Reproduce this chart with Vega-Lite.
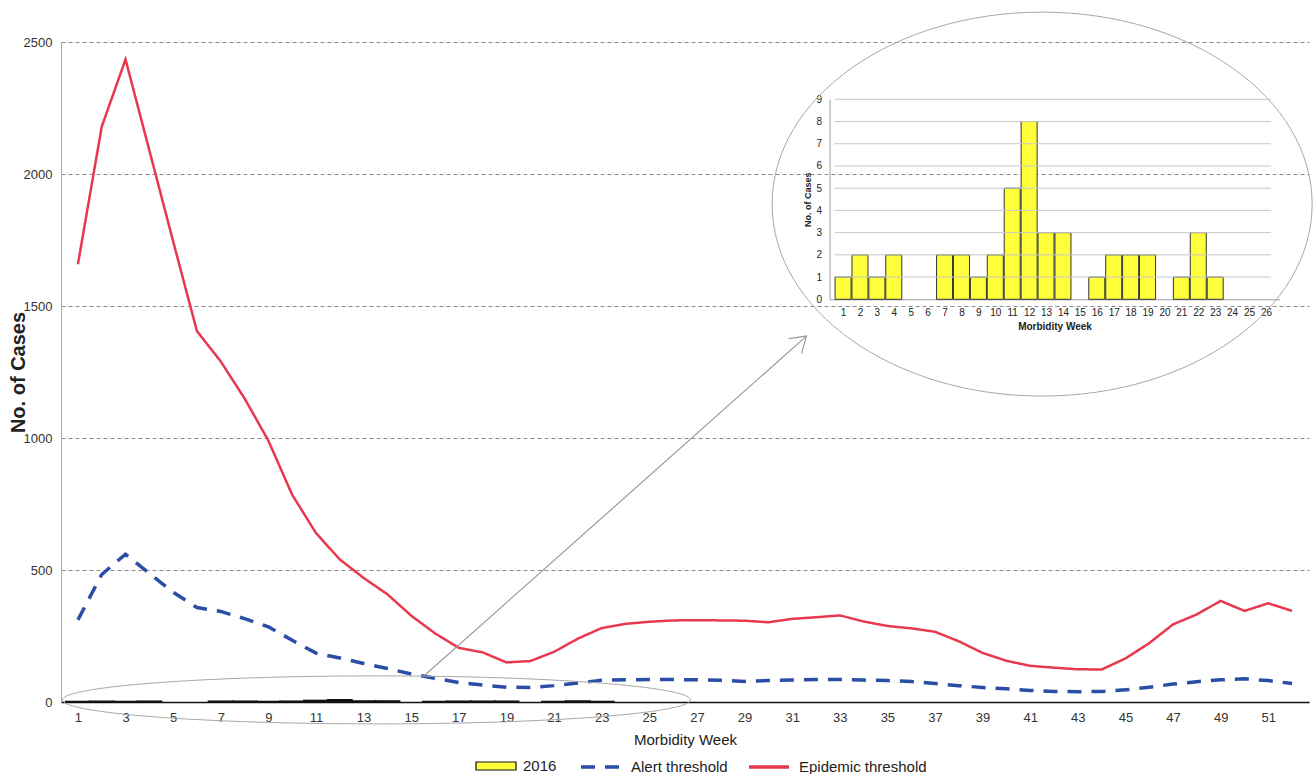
{
  "$schema": "https://vega.github.io/schema/vega-lite/v6.json",
  "width": 1248,
  "height": 660,
  "autosize": {"type": "none"},
  "padding": {"left": 61, "top": 42, "right": 7, "bottom": 72},
  "background": "white",
  "config": {"font": "Liberation Sans", "view": {"stroke": null}},
  "datasets": {
    "weekly": [
      {"week": 1, "alert": 311, "epidemic": 1658},
      {"week": 2, "alert": 483, "epidemic": 2179},
      {"week": 3, "alert": 560, "epidemic": 2434},
      {"week": 4, "alert": 487, "epidemic": 2090},
      {"week": 5, "alert": 416, "epidemic": 1745},
      {"week": 6, "alert": 358, "epidemic": 1405},
      {"week": 7, "alert": 343, "epidemic": 1290},
      {"week": 8, "alert": 316, "epidemic": 1150},
      {"week": 9, "alert": 285, "epidemic": 990},
      {"week": 10, "alert": 234, "epidemic": 785},
      {"week": 11, "alert": 185, "epidemic": 640},
      {"week": 12, "alert": 167, "epidemic": 540},
      {"week": 13, "alert": 146, "epidemic": 470},
      {"week": 14, "alert": 127, "epidemic": 408},
      {"week": 15, "alert": 106, "epidemic": 327},
      {"week": 16, "alert": 90, "epidemic": 260},
      {"week": 17, "alert": 74, "epidemic": 205},
      {"week": 18, "alert": 64, "epidemic": 188},
      {"week": 19, "alert": 56, "epidemic": 150},
      {"week": 20, "alert": 55, "epidemic": 155},
      {"week": 21, "alert": 62, "epidemic": 190},
      {"week": 22, "alert": 72, "epidemic": 240},
      {"week": 23, "alert": 82, "epidemic": 280},
      {"week": 24, "alert": 84, "epidemic": 296},
      {"week": 25, "alert": 85, "epidemic": 304},
      {"week": 26, "alert": 85, "epidemic": 309},
      {"week": 27, "alert": 84, "epidemic": 310},
      {"week": 28, "alert": 82, "epidemic": 309},
      {"week": 29, "alert": 78, "epidemic": 308},
      {"week": 30, "alert": 81, "epidemic": 302},
      {"week": 31, "alert": 83, "epidemic": 315},
      {"week": 32, "alert": 85, "epidemic": 321},
      {"week": 33, "alert": 85, "epidemic": 328},
      {"week": 34, "alert": 83, "epidemic": 305},
      {"week": 35, "alert": 81, "epidemic": 288},
      {"week": 36, "alert": 78, "epidemic": 279},
      {"week": 37, "alert": 70, "epidemic": 266},
      {"week": 38, "alert": 62, "epidemic": 230},
      {"week": 39, "alert": 55, "epidemic": 186},
      {"week": 40, "alert": 50, "epidemic": 156},
      {"week": 41, "alert": 44, "epidemic": 137},
      {"week": 42, "alert": 40, "epidemic": 130},
      {"week": 43, "alert": 39, "epidemic": 124},
      {"week": 44, "alert": 40, "epidemic": 123},
      {"week": 45, "alert": 46, "epidemic": 165},
      {"week": 46, "alert": 56, "epidemic": 223},
      {"week": 47, "alert": 68, "epidemic": 294},
      {"week": 48, "alert": 77, "epidemic": 332},
      {"week": 49, "alert": 84, "epidemic": 383},
      {"week": 50, "alert": 88, "epidemic": 345},
      {"week": 51, "alert": 81, "epidemic": 374},
      {"week": 52, "alert": 70, "epidemic": 345}
    ],
    "y2016": [
      {"week": 1, "cases": 1}, {"week": 2, "cases": 2}, {"week": 3, "cases": 1}, {"week": 4, "cases": 2},
      {"week": 7, "cases": 2}, {"week": 8, "cases": 2}, {"week": 9, "cases": 1}, {"week": 10, "cases": 2},
      {"week": 11, "cases": 5}, {"week": 12, "cases": 8}, {"week": 13, "cases": 3}, {"week": 14, "cases": 3},
      {"week": 16, "cases": 1}, {"week": 17, "cases": 2}, {"week": 18, "cases": 2}, {"week": 19, "cases": 2},
      {"week": 21, "cases": 1}, {"week": 22, "cases": 3}, {"week": 23, "cases": 1}
    ],
    "insetGrid": [
      {"cases": 1}, {"cases": 2}, {"cases": 3}, {"cases": 4}, {"cases": 5},
      {"cases": 6}, {"cases": 7}, {"cases": 8}, {"cases": 9}
    ],
    "bigEllipse": [{"week": 41.5, "value": 1886}],
    "smallEllipse": [{"week": 13.54, "value": 8}],
    "arrow": [{"week": 15.58, "value": 102, "week2": 31.6, "value2": 1386}]
  },
  "layer": [
    {
      "layer": [
        {
          "data": {"name": "y2016"},
          "mark": {"type": "bar", "width": 24, "stroke": "#111111", "strokeWidth": 2},
          "encoding": {
            "x": {
              "field": "week", "type": "quantitative", "title": "Morbidity Week",
              "scale": {"domain": [0.5, 52.5], "nice": false, "zero": false},
              "axis": {
                "values": [1, 3, 5, 7, 9, 11, 13, 15, 17, 19, 21, 23, 25, 27, 29, 31, 33, 35, 37, 39, 41, 43, 45, 47, 49, 51],
                "format": "d", "ticks": false, "grid": false, "labelFlush": false,
                "domainColor": "#111111", "domainWidth": 1.5,
                "labelFontSize": 13, "labelColor": "#333333", "labelPadding": 9,
                "titleFontSize": 15, "titleFontWeight": "normal", "titleColor": "#222222", "titlePadding": 8
              }
            },
            "y": {
              "field": "cases", "type": "quantitative", "title": "No. of Cases",
              "scale": {"domain": [0, 2500], "nice": false},
              "axis": {
                "values": [0, 500, 1000, 1500, 2000, 2500],
                "format": "d",
                "ticks": false, "grid": true, "gridDash": [4, 3], "gridColor": "#8a8a8a", "gridWidth": 1,
                "labelFlush": false, "domainColor": "#aaaaaa",
                "labelFontSize": 13, "labelColor": "#333333", "labelPadding": 9,
                "titleFontSize": 20, "titleFontWeight": "bold", "titleColor": "#222222", "titlePadding": -5
              }
            },
            "fill": {
              "datum": "2016", "type": "nominal",
              "scale": {"domain": ["2016"], "range": ["#ffff3c"]},
              "legend": {
                "orient": "none", "legendX": 414, "legendY": 703, "direction": "horizontal", "title": null,
                "labelFontSize": 15, "labelColor": "#222222", "labelOffset": 6,
                "symbolType": "M-1,-0.2H1V0.2H-1Z", "symbolSize": 1600,
                "symbolFillColor": "#ffff3c", "symbolStrokeColor": "#111111", "symbolStrokeWidth": 1.2, "symbolOpacity": 1
              }
            }
          }
        },
        {
          "data": {"name": "weekly"},
          "mark": {"type": "line", "strokeWidth": 3.5},
          "encoding": {
            "x": {"field": "week", "type": "quantitative", "title": "Morbidity Week"},
            "y": {"field": "alert", "type": "quantitative", "title": "No. of Cases"},
            "stroke": {
              "datum": "Alert threshold", "type": "nominal",
              "scale": {"domain": ["Alert threshold", "Epidemic threshold"], "range": ["#2a4da5", "#e8384d"]},
              "legend": {
                "orient": "none", "legendX": 518, "legendY": 703, "direction": "horizontal", "title": null,
                "labelFontSize": 15, "labelColor": "#222222", "labelOffset": 8, "columnPadding": 14,
                "symbolType": "stroke", "symbolSize": 1600, "symbolStrokeWidth": 3.5, "symbolOpacity": 1
              }
            },
            "strokeDash": {
              "datum": "Alert threshold", "type": "nominal",
              "scale": {"domain": ["Alert threshold", "Epidemic threshold"], "range": [[14, 10], [1, 0]]},
              "legend": {
                "orient": "none", "legendX": 518, "legendY": 703, "direction": "horizontal", "title": null,
                "labelFontSize": 15, "labelColor": "#222222", "labelOffset": 8, "columnPadding": 14,
                "symbolType": "stroke", "symbolSize": 1600, "symbolStrokeWidth": 3.5, "symbolOpacity": 1
              }
            }
          }
        },
        {
          "data": {"name": "weekly"},
          "mark": {"type": "line", "strokeWidth": 2.5},
          "encoding": {
            "x": {"field": "week", "type": "quantitative", "title": "Morbidity Week"},
            "y": {"field": "epidemic", "type": "quantitative", "title": "No. of Cases"},
            "stroke": {"datum": "Epidemic threshold", "type": "nominal"},
            "strokeDash": {"datum": "Epidemic threshold", "type": "nominal"}
          }
        },
        {
          "data": {"name": "bigEllipse"},
          "mark": {"type": "point", "shape": "M-1 0A1 0.711 0 1 0 1 0A1 0.711 0 1 0 -1 0Z", "size": 291600, "filled": false, "stroke": "#a8a8a8", "strokeWidth": 1, "opacity": 1},
          "encoding": {
            "x": {"field": "week", "type": "quantitative", "title": "Morbidity Week"},
            "y": {"field": "value", "type": "quantitative", "title": "No. of Cases"}
          }
        },
        {
          "data": {"name": "smallEllipse"},
          "mark": {"type": "point", "shape": "M-1 0A1 0.0764 0 1 0 1 0A1 0.0764 0 1 0 -1 0Z", "size": 394384, "filled": false, "stroke": "#a8a8a8", "strokeWidth": 1, "opacity": 1},
          "encoding": {
            "x": {"field": "week", "type": "quantitative", "title": "Morbidity Week"},
            "y": {"field": "value", "type": "quantitative", "title": "No. of Cases"}
          }
        },
        {
          "data": {"name": "arrow"},
          "mark": {"type": "rule", "color": "#9a9a9a", "strokeWidth": 1.2},
          "encoding": {
            "x": {"field": "week", "type": "quantitative", "title": "Morbidity Week"},
            "y": {"field": "value", "type": "quantitative", "title": "No. of Cases"},
            "x2": {"field": "week2"},
            "y2": {"field": "value2"}
          }
        },
        {
          "data": {"name": "arrow"},
          "mark": {"type": "point", "shape": "M-1 -0.65L0 0L-1 0.65", "size": 900, "filled": false, "stroke": "#9a9a9a", "strokeWidth": 1.2, "angle": -41.4, "opacity": 1},
          "encoding": {
            "x": {"field": "week2", "type": "quantitative", "title": "Morbidity Week"},
            "y": {"field": "value2", "type": "quantitative", "title": "No. of Cases"}
          }
        }
      ]
    },
    {
      "layer": [
        {
          "data": {"name": "y2016"},
          "mark": {"type": "bar", "width": 16, "fill": "#ffff3c", "stroke": "#333333", "strokeWidth": 1},
          "encoding": {
            "x": {
              "field": "week", "type": "quantitative", "title": "Morbidity Week",
              "scale": {"domain": [0.5, 26.5], "range": [768.6, 1218.4], "nice": false, "zero": false},
              "axis": {
                "orient": "bottom", "offset": -402.7,
                "values": [1, 2, 3, 4, 5, 6, 7, 8, 9, 10, 11, 12, 13, 14, 15, 16, 17, 18, 19, 20, 21, 22, 23, 24, 25, 26],
                "format": "d", "ticks": false, "grid": false, "labelFlush": false,
                "domainColor": "#9a9a9a", "domainWidth": 1,
                "labelFontSize": 10, "labelColor": "#222222", "labelPadding": 8,
                "titleFontSize": 10, "titleFontWeight": "bold", "titleColor": "#222222", "titlePadding": 4
              }
            },
            "y": {
              "field": "cases", "type": "quantitative", "title": "No. of Cases",
              "scale": {"domain": [0, 9], "range": [257.3, 57.3], "nice": false},
              "axis": {
                "orient": "left", "offset": -768.6,
                "values": [0, 1, 2, 3, 4, 5, 6, 7, 8, 9],
                "format": "d", "ticks": false, "grid": false, "labelFlush": false,
                "domainColor": "#9a9a9a", "domainWidth": 1,
                "labelFontSize": 10, "labelColor": "#222222", "labelPadding": 8,
                "titleFontSize": 9, "titleFontWeight": "bold", "titleColor": "#222222", "titlePadding": 4
              }
            }
          }
        },
        {
          "data": {"name": "insetGrid"},
          "mark": {"type": "rule", "color": "#c9c9c9", "strokeWidth": 1},
          "encoding": {
            "y": {"field": "cases", "type": "quantitative", "title": "No. of Cases"},
            "x": {"datum": 0.5, "type": "quantitative", "title": "Morbidity Week"},
            "x2": {"datum": 26.3}
          }
        }
      ]
    }
  ],
  "resolve": {
    "scale": {"x": "independent", "y": "independent"},
    "axis": {"x": "independent", "y": "independent"}
  }
}
